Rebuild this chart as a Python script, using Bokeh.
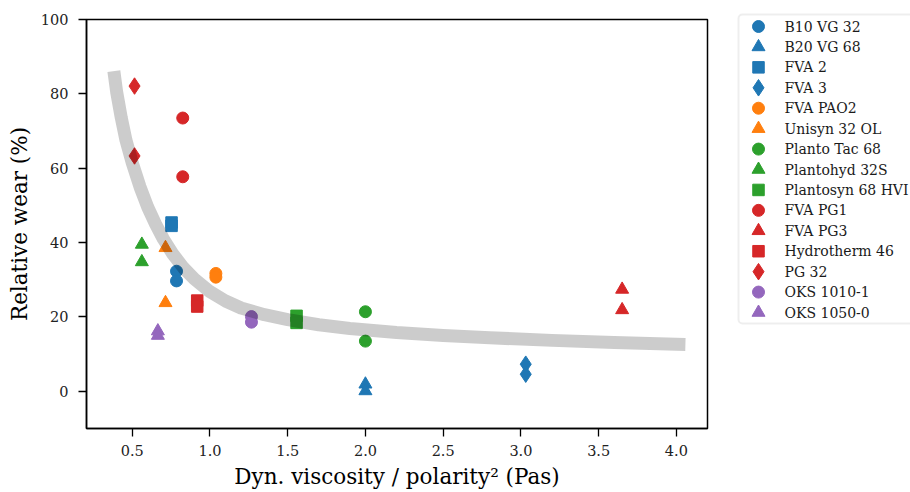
from bokeh.plotting import figure
from bokeh.layouts import row
from bokeh.models import Range1d, FixedTicker, BoxAnnotation
from bokeh.embed import file_html
from bokeh.resources import INLINE
from bokeh.core.properties import value

# ---- data ----
series_names = ["B10 VG 32", "B20 VG 68", "FVA 2", "FVA 3", "FVA PAO2", "Unisyn 32 OL",
                "Planto Tac 68", "Plantohyd 32S", "Plantosyn 68 HVI", "FVA PG1", "FVA PG3",
                "Hydrotherm 46", "PG 32", "OKS 1010-1", "OKS 1050-0"]
series_markers = ["circle", "triangle", "square", "diamond", "circle", "triangle",
                  "circle", "triangle", "square", "circle", "triangle",
                  "square", "diamond", "circle", "triangle"]
series_colors = ["#1f77b4", "#1f77b4", "#1f77b4", "#1f77b4", "#ff7f0e", "#ff7f0e",
                 "#2ca02c", "#2ca02c", "#2ca02c", "#d62728", "#d62728",
                 "#d62728", "#d62728", "#9467bd", "#9467bd"]
series_x = [[0.785, 0.785], [2.0, 2.0], [0.753, 0.753], [3.031, 3.031], [1.038, 1.038],
            [0.714, 0.714], [2.0, 2.0], [0.562, 0.562], [1.557, 1.557], [0.825, 0.825],
            [3.651, 3.651], [0.918, 0.918], [0.515, 0.515], [1.267, 1.267], [0.665, 0.665]]
series_y = [[32.3, 29.7], [1.9, 0.1], [45.4, 44.5], [7.3, 4.6], [31.7, 30.7],
            [38.6, 23.8], [21.4, 13.5], [39.5, 34.8], [20.3, 18.4], [73.5, 57.7],
            [27.4, 21.9], [24.4, 22.8], [82.1, 63.3], [20.1, 18.6], [16.2, 15.0]]

# fitted trend curve
fit_x = [0.382, 0.40, 0.43, 0.46, 0.50, 0.55, 0.60, 0.65, 0.70, 0.76, 0.83, 0.90, 1.0,
         1.1, 1.2, 1.35, 1.5, 1.7, 1.9, 2.2, 2.5, 2.8, 3.2, 3.6, 4.058]
fit_y = [86.1, 80.5, 73.5, 67.5, 61.5, 55.0, 49.5, 45.0, 41.0, 37.0, 33.2, 30.2, 26.8,
         24.3, 22.4, 20.6, 19.3, 17.9, 16.9, 15.8, 15.0, 14.4, 13.7, 13.1, 12.6]

x_ticks = [0.5, 1.0, 1.5, 2.0, 2.5, 3.0, 3.5, 4.0]
x_tick_labels = ["0.5", "1.0", "1.5", "2.0", "2.5", "3.0", "3.5", "4.0"]
y_ticks = [0, 20, 40, 60, 80, 100]

marker_size = {"circle": 12, "triangle": 13, "square": 11.5, "diamond": 16.5}

FONT = "DejaVu Serif"

# ---- main plot ----
p = figure(width=712, height=492, x_range=Range1d(0.206, 4.20), y_range=Range1d(-10, 100),
           output_backend="svg", toolbar_location=None,
           min_border_left=86, min_border_right=5, min_border_top=19, min_border_bottom=64)
p.frame_align = False

for name, mk, col, xs, ys in zip(series_names, series_markers, series_colors, series_x, series_y):
    p.scatter(xs, ys, marker=mk, size=marker_size[mk], fill_color=col, line_color=col,
              line_width=1)

p.line(fit_x, fit_y, line_color="black", line_alpha=0.2, line_width=13, line_cap="butt",
       line_join="round")

p.grid.visible = False
p.outline_line_color = "black"
p.outline_line_width = 1.5
p.outline_line_alpha = 1.0
p.background_fill_color = "white"
p.border_fill_color = "white"

p.xaxis.ticker = FixedTicker(ticks=x_ticks)
p.xaxis.major_label_overrides = {t: l for t, l in zip(x_ticks, x_tick_labels)}
p.yaxis.ticker = FixedTicker(ticks=y_ticks)
p.xaxis.axis_label = "Dyn. viscosity / polarity\u00b2 (Pas)"
p.yaxis.axis_label = "Relative wear (%)"

for ax in (p.xaxis[0], p.yaxis[0]):
    ax.major_tick_out = 8
    ax.major_tick_in = 0
    ax.minor_tick_out = 0
    ax.minor_tick_in = 0
    ax.major_tick_line_width = 1.3
    ax.major_tick_line_color = "black"
    ax.axis_line_width = 1.5
    ax.axis_line_color = "black"
    ax.major_label_text_font = FONT
    ax.major_label_text_font_size = "14.5px"
    ax.major_label_text_color = "#222222"
    ax.axis_label_text_font = FONT
    ax.axis_label_text_font_size = "21.5px"
    ax.axis_label_text_font_style = "normal"
    ax.axis_label_text_color = "black"

p.xaxis[0].major_label_standoff = 8
p.xaxis[0].axis_label_standoff = 5
p.yaxis[0].major_label_standoff = 10
p.yaxis[0].axis_label_standoff = 6

# ---- legend (separate panel) ----
leg = figure(width=198, height=492, x_range=Range1d(0, 198), y_range=Range1d(492, 0),
             output_backend="svg", toolbar_location=None, min_border=0,
             x_axis_location=None, y_axis_location=None)
leg.frame_align = False
leg.grid.visible = False
leg.outline_line_color = None
leg.background_fill_color = "white"
leg.border_fill_color = "white"

leg.add_layout(BoxAnnotation(left=26, right=320, top=14, bottom=323, fill_color="white",
                             fill_alpha=1.0, line_color="#c8c8c8", line_width=2,
                             border_radius=4, level="underlay"))

row_y0 = 26
row_pitch = 20.43
for i, (name, mk, col) in enumerate(zip(series_names, series_markers, series_colors)):
    yy = row_y0 + i * row_pitch
    leg.scatter([46], [yy], marker=mk, size=marker_size[mk], fill_color=col, line_color=col,
                line_width=1)
    leg.text([72], [yy], text=[name], text_baseline="middle", text_align="left",
             text_font=value(FONT), text_font_size="14px", text_color="#1a1a1a")

layout = row(p, leg)
open("out.html", "w").write(file_html(layout, INLINE))
